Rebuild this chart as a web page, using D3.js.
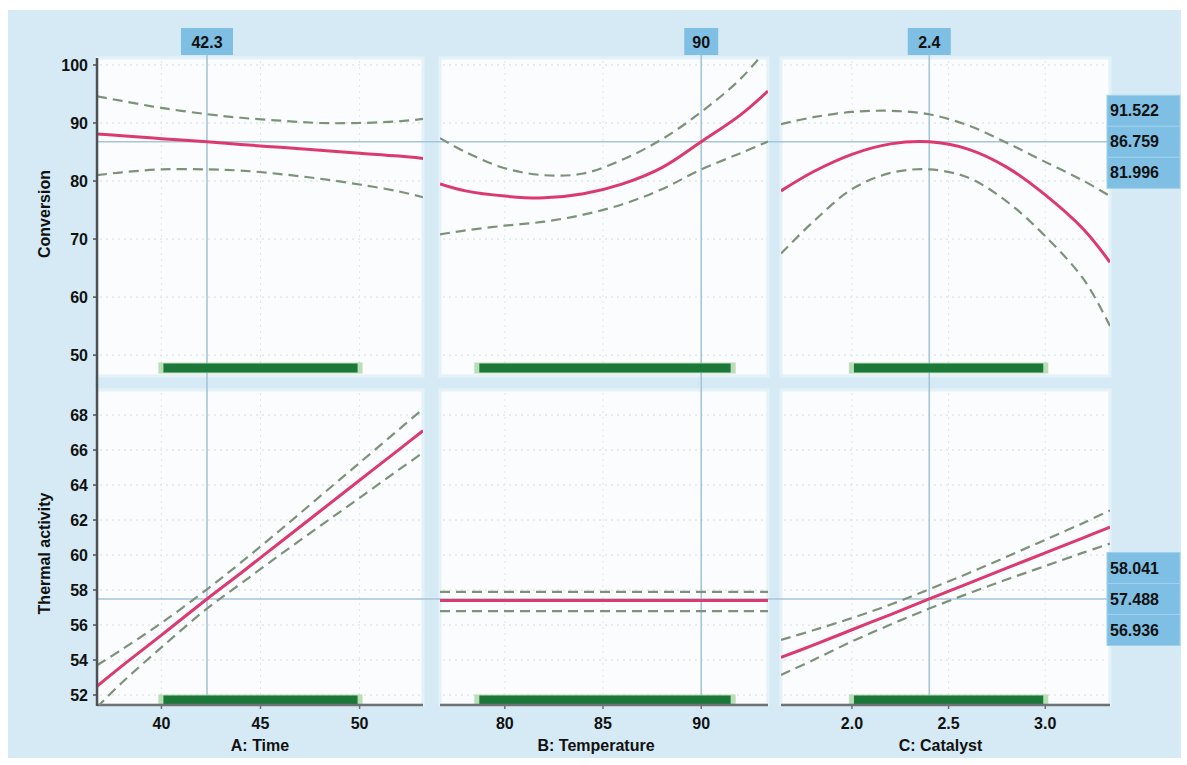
<!DOCTYPE html>
<html><head><meta charset="utf-8">
<script src="https://cdn.jsdelivr.net/npm/d3@7"></script>
<style>
body{margin:0;background:#fff;}
text{font-family:"Liberation Sans",Arial,Helvetica,sans-serif;font-weight:bold;fill:#111;}
</style>
</head><body>
<svg id="chart" width="1187" height="765"></svg>
<script>
// ---------------- DATA ----------------
const factorNames = ["A: Time", "B: Temperature", "C: Catalyst"];
const responseNames = ["Conversion", "Thermal activity"];

const timeDomain = [36.75, 53.2];
const tempDomain = [76.7, 93.4];
const catDomain = [1.633, 3.335];
const convDomain = [46.4, 101.2];
const thermDomain = [51.43, 69.43];

const timeTicks = [40, 45, 50];
const tempTicks = [80, 85, 90];
const catTicks = [2.0, 2.5, 3.0];
const convTicks = [50, 60, 70, 80, 90, 100];
const thermTicks = [52, 54, 56, 58, 60, 62, 64, 66, 68];

const factorSettings = [42.3, 90, 2.4];
const factorLabels = ["42.3", "90", "2.4"];
const timeRange = [40, 50];
const tempRange = [78.6, 91.6];
const catRange = [2.0, 3.0];

const convPrediction = [91.522, 86.759, 81.996];   // upper, predicted, lower
const thermPrediction = [58.041, 57.488, 56.936];

// A: Time
const timeX = [36.75, 38, 40, 42.3, 44, 46, 48, 50, 52, 53.2];
const convTimeMean  = [88.1, 87.8, 87.3, 86.76, 86.3, 85.8, 85.3, 84.8, 84.3, 83.9];
const convTimeUpper = [94.6, 93.8, 92.6, 91.52, 90.9, 90.4, 90.0, 90.0, 90.3, 90.7];
const convTimeLower = [81.0, 81.5, 82.0, 82.0, 81.8, 81.2, 80.4, 79.4, 78.2, 77.2];
const thermTimeMean  = [52.5, 53.65, 55.42, 57.49, 58.96, 60.73, 62.5, 64.27, 66.04, 67.1];
const thermTimeUpper = [53.7, 54.6, 56.12, 58.04, 59.56, 61.43, 63.35, 65.27, 67.19, 68.35];
const thermTimeLower = [51.3, 52.7, 54.72, 56.94, 58.36, 60.03, 61.65, 63.27, 64.89, 65.85];

// B: Temperature
const tempX = [76.7, 78, 80, 82, 84, 86, 88, 90, 92, 93.4];
const convTempMean  = [79.5, 78.3, 77.4, 77.1, 77.8, 79.5, 82.3, 86.76, 91.4, 95.5];
const convTempUpper = [87.4, 85.0, 82.2, 81.0, 81.3, 83.7, 87.2, 91.9, 97.6, 103.0];
const convTempLower = [70.8, 71.5, 72.3, 73.0, 74.2, 76.0, 78.6, 82.0, 84.8, 86.8];
const thermTempMean  = [57.4, 57.4, 57.4, 57.4, 57.4, 57.4, 57.4, 57.4, 57.4, 57.4];
const thermTempUpper = [57.9, 57.9, 57.9, 57.9, 57.9, 57.9, 57.9, 57.9, 57.9, 57.9];
const thermTempLower = [56.8, 56.8, 56.8, 56.8, 56.8, 56.8, 56.8, 56.8, 56.8, 56.8];

// C: Catalyst
const catX = [1.633, 1.8, 2.0, 2.2, 2.4, 2.6, 2.8, 3.0, 3.2, 3.335];
const convCatMean  = [78.3, 81.6, 84.6, 86.4, 86.76, 85.5, 82.4, 77.6, 71.6, 66.0];
const convCatUpper = [89.8, 91.0, 91.9, 92.1, 91.5, 89.6, 86.6, 83.3, 80.0, 77.4];
const convCatLower = [67.5, 73.0, 78.6, 81.4, 82.0, 80.6, 76.5, 70.5, 63.0, 55.0];
const thermCatMean  = [54.15, 54.85, 55.73, 56.6, 57.49, 58.37, 59.25, 60.12, 61.0, 61.6];
const thermCatUpper = [55.15, 55.7, 56.4, 57.17, 58.04, 58.95, 59.9, 60.87, 61.85, 62.55];
const thermCatLower = [53.15, 54.0, 55.06, 56.03, 56.94, 57.79, 58.6, 59.37, 60.15, 60.65];

// ---------------- LAYOUT ----------------
const svg = d3.select("#chart");
const colX = [[97, 423], [440, 768], [781, 1110]];
const rowY = [[58, 376], [390, 705]];
const FS = 16;

const cols = [
  {dom: timeDomain, ticks: timeTicks, fmt: d3.format("d"), xs: timeX, range: timeRange,
   rows: [[convTimeMean, convTimeUpper, convTimeLower], [thermTimeMean, thermTimeUpper, thermTimeLower]]},
  {dom: tempDomain, ticks: tempTicks, fmt: d3.format("d"), xs: tempX, range: tempRange,
   rows: [[convTempMean, convTempUpper, convTempLower], [thermTempMean, thermTempUpper, thermTempLower]]},
  {dom: catDomain, ticks: catTicks, fmt: d3.format(".1f"), xs: catX, range: catRange,
   rows: [[convCatMean, convCatUpper, convCatLower], [thermCatMean, thermCatUpper, thermCatLower]]}
];
const rowsCfg = [
  {dom: convDomain, ticks: convTicks, pred: convPrediction, title: responseNames[0]},
  {dom: thermDomain, ticks: thermTicks, pred: thermPrediction, title: responseNames[1]}
];

const bg = "#d5eaf4";
const boxBlue = "#7fbfe4";
const crossCol = "#a6c5d8";

svg.append("rect").attr("x", 8).attr("y", 10).attr("width", 1173).attr("height", 748).attr("fill", bg);

const defs = svg.append("defs");

cols.forEach((c, ci) => {
  const x = d3.scaleLinear().domain(c.dom).range(colX[ci]);
  c.x = x;
  rowsCfg.forEach((r, ri) => {
    const y = d3.scaleLinear().domain(r.dom).range([rowY[ri][1], rowY[ri][0]]);
    const g = svg.append("g");
    const cid = `clip${ci}${ri}`;
    defs.append("clipPath").attr("id", cid).append("rect")
      .attr("x", colX[ci][0]).attr("y", rowY[ri][0])
      .attr("width", colX[ci][1] - colX[ci][0]).attr("height", rowY[ri][1] - rowY[ri][0]);
    g.append("rect").attr("x", colX[ci][0]).attr("y", rowY[ri][0])
      .attr("width", colX[ci][1] - colX[ci][0]).attr("height", rowY[ri][1] - rowY[ri][0])
      .attr("fill", "#fafcfd").attr("stroke", "#e4f1f7").attr("stroke-width", 3);
    g.selectAll(".hg").data(r.ticks).join("line")
      .attr("x1", colX[ci][0] + 3).attr("x2", colX[ci][1] - 3)
      .attr("y1", d => y(d)).attr("y2", d => y(d))
      .attr("stroke", "#d9dde0").attr("stroke-width", 1).attr("stroke-dasharray", "2,4");
    g.selectAll(".vg").data(c.ticks).join("line")
      .attr("x1", d => x(d)).attr("x2", d => x(d))
      .attr("y1", rowY[ri][0] + 3).attr("y2", rowY[ri][1] - 3)
      .attr("stroke", "#e3e6e8").attr("stroke-width", 1).attr("stroke-dasharray", "2,4");
    c["y" + ri] = y;
  });
});

// crosshairs
cols.forEach((c, ci) => {
  const xv = c.x(factorSettings[ci]);
  svg.append("line").attr("x1", xv).attr("x2", xv).attr("y1", 55).attr("y2", 705)
    .attr("stroke", crossCol).attr("stroke-width", 1.6);
});
rowsCfg.forEach((r, ri) => {
  const yv = cols[0]["y" + ri](r.pred[1]);
  svg.append("line").attr("x1", 97).attr("x2", 1107).attr("y1", yv).attr("y2", yv)
    .attr("stroke", crossCol).attr("stroke-width", 1.6);
});

// green design ranges
cols.forEach((c, ci) => {
  rowsCfg.forEach((r, ri) => {
    const yb = ri === 0 ? 368 : 700;
    svg.append("line").attr("x1", c.x(c.range[0]) - 3).attr("x2", c.x(c.range[1]) + 3)
      .attr("y1", yb).attr("y2", yb).attr("stroke", "#9fd49a").attr("stroke-width", 11)
      .attr("opacity", 0.7);
    svg.append("line").attr("x1", c.x(c.range[0]) + 2).attr("x2", c.x(c.range[1]) - 2)
      .attr("y1", yb).attr("y2", yb).attr("stroke", "#1b7838").attr("stroke-width", 9);
  });
});

// bottom axis lines
cols.forEach((c, ci) => {
  svg.append("line").attr("x1", colX[ci][0]).attr("x2", colX[ci][1]).attr("y1", 705).attr("y2", 705)
    .attr("stroke", "#6e7276").attr("stroke-width", 2.5);
  svg.selectAll(null).data(c.ticks).join("line")
    .attr("x1", d => c.x(d)).attr("x2", d => c.x(d)).attr("y1", 705).attr("y2", 709)
    .attr("stroke", "#6e7276").attr("stroke-width", 1.5);
  svg.selectAll(null).data(c.ticks).join("text")
    .attr("x", d => c.x(d)).attr("y", 729).attr("text-anchor", "middle")
    .attr("font-size", FS).text(d => c.fmt(d));
  svg.append("text").attr("x", (colX[ci][0] + colX[ci][1]) / 2 - (ci === 1 ? 8 : ci === 2 ? 5 : 0))
    .attr("y", 751).attr("text-anchor", "middle").attr("font-size", FS).text(factorNames[ci]);
});

// curves
cols.forEach((c, ci) => {
  rowsCfg.forEach((r, ri) => {
    const y = c["y" + ri];
    const line = d3.line().x((d, i) => c.x(c.xs[i])).y(d => y(d)).curve(d3.curveCatmullRom.alpha(0.5));
    const g = svg.append("g").attr("clip-path", `url(#clip${ci}${ri})`);
    const [mean, up, lo] = c.rows[ri];
    [up, lo].forEach(s => {
      g.append("path").attr("d", line(s)).attr("fill", "none")
        .attr("stroke", "#7d9279").attr("stroke-width", 2.2).attr("stroke-dasharray", "10,6");
    });
    g.append("path").attr("d", line(mean)).attr("fill", "none")
      .attr("stroke", "#dc3a6e").attr("stroke-width", 3);
  });
});

// left axis
svg.append("line").attr("x1", 97).attr("x2", 97).attr("y1", 58).attr("y2", 706)
  .attr("stroke", "#4d5155").attr("stroke-width", 2.5);
rowsCfg.forEach((r, ri) => {
  const y = cols[0]["y" + ri];
  svg.selectAll(null).data(r.ticks).join("line")
    .attr("x1", 93).attr("x2", 97).attr("y1", d => y(d)).attr("y2", d => y(d))
    .attr("stroke", "#4d5155").attr("stroke-width", 1.5);
  svg.selectAll(null).data(r.ticks).join("text")
    .attr("x", 88).attr("y", d => y(d)).attr("dy", "0.35em").attr("text-anchor", "end")
    .attr("font-size", FS).text(d => d);
  const cy = (rowY[ri][0] + rowY[ri][1]) / 2 + (ri === 0 ? -3 : 6);
  svg.append("text").attr("transform", `translate(50,${cy}) rotate(-90)`)
    .attr("text-anchor", "middle").attr("font-size", FS).text(r.title);
});

// top factor boxes
cols.forEach((c, ci) => {
  const xv = c.x(factorSettings[ci]);
  const w = factorLabels[ci].length * 9 + 16;
  svg.append("rect").attr("x", xv - w / 2).attr("y", 28).attr("width", w).attr("height", 27).attr("fill", boxBlue);
  svg.append("text").attr("x", xv).attr("y", 42).attr("dy", "0.35em").attr("text-anchor", "middle")
    .attr("font-size", FS).text(factorLabels[ci]);
});

// right prediction boxes
rowsCfg.forEach((r, ri) => {
  const yc = cols[0]["y" + ri](r.pred[1]);
  const fmt = d3.format(".3f");
  r.pred.forEach((v, k) => {
    const top = yc - 15.5 + (k - 1) * 31;
    svg.append("rect").attr("x", 1107).attr("y", top).attr("width", 73).attr("height", 31)
      .attr("fill", boxBlue).attr("stroke", "#9fd0ec").attr("stroke-width", 1);
    svg.append("text").attr("x", 1110).attr("y", top + 15.5).attr("dy", "0.35em")
      .attr("font-size", FS).text(fmt(v));
  });
});
</script>
</body></html>
